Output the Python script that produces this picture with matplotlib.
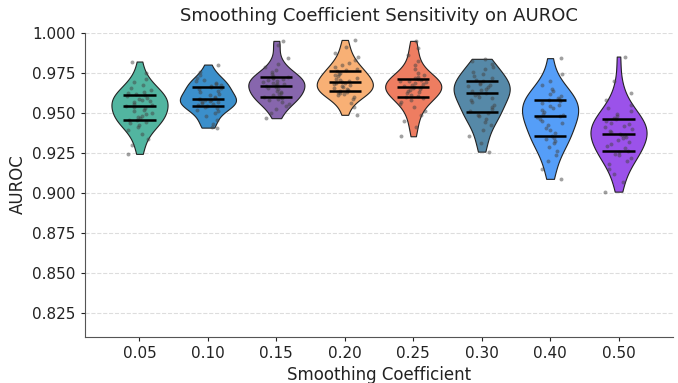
import matplotlib
matplotlib.use("Agg")
import matplotlib.pyplot as plt
import numpy as np


COEFFS = ["0.05", "0.10", "0.15", "0.20", "0.25", "0.30", "0.40", "0.50"]
COLORS = ["#52b5a0", "#3b8fcb", "#8766ad", "#f8b075",
          "#ee7d61", "#5689a8", "#559ef8", "#9b52ea"]

auroc_005 = [0.9242, 0.9296, 0.9338, 0.9365, 0.9389, 0.9407, 0.9421, 0.9433, 0.9442, 0.9451,
             0.9456, 0.9464, 0.9472, 0.9481, 0.9489, 0.9498, 0.9507, 0.9517, 0.9526, 0.9535,
             0.9541, 0.9549, 0.9556, 0.9563, 0.9570, 0.9578, 0.9586, 0.9594, 0.9601, 0.9609,
             0.9614, 0.9622, 0.9631, 0.9643, 0.9656, 0.9671, 0.9689, 0.9712, 0.9745, 0.9819]
auroc_010 = [0.9406, 0.9412, 0.9431, 0.9452, 0.9478, 0.9496, 0.9509, 0.9518, 0.9527, 0.9535,
             0.9541, 0.9548, 0.9554, 0.9559, 0.9564, 0.9569, 0.9573, 0.9577, 0.9580, 0.9583,
             0.9586, 0.9592, 0.9600, 0.9609, 0.9618, 0.9627, 0.9637, 0.9646, 0.9654, 0.9661,
             0.9666, 0.9672, 0.9679, 0.9687, 0.9696, 0.9706, 0.9718, 0.9733, 0.9755, 0.9800]
auroc_015 = [0.9465, 0.9497, 0.9521, 0.9540, 0.9556, 0.9568, 0.9577, 0.9584, 0.9590, 0.9595,
             0.9600, 0.9607, 0.9614, 0.9622, 0.9630, 0.9637, 0.9645, 0.9652, 0.9659, 0.9665,
             0.9670, 0.9676, 0.9681, 0.9687, 0.9692, 0.9698, 0.9703, 0.9709, 0.9714, 0.9719,
             0.9724, 0.9731, 0.9740, 0.9751, 0.9765, 0.9782, 0.9805, 0.9838, 0.9921, 0.9948]
auroc_020 = [0.9486, 0.9532, 0.9562, 0.9583, 0.9598, 0.9608, 0.9615, 0.9621, 0.9626, 0.9630,
             0.9635, 0.9641, 0.9647, 0.9653, 0.9659, 0.9665, 0.9671, 0.9677, 0.9682, 0.9687,
             0.9692, 0.9698, 0.9705, 0.9712, 0.9719, 0.9726, 0.9734, 0.9742, 0.9750, 0.9758,
             0.9765, 0.9774, 0.9785, 0.9798, 0.9812, 0.9828, 0.9848, 0.9875, 0.9912, 0.9954]
auroc_025 = [0.9352, 0.9408, 0.9450, 0.9482, 0.9510, 0.9533, 0.9553, 0.9569, 0.9581, 0.9590,
             0.9596, 0.9604, 0.9612, 0.9620, 0.9627, 0.9634, 0.9641, 0.9647, 0.9652, 0.9657,
             0.9661, 0.9666, 0.9671, 0.9677, 0.9683, 0.9689, 0.9695, 0.9700, 0.9705, 0.9710,
             0.9716, 0.9724, 0.9735, 0.9750, 0.9770, 0.9795, 0.9825, 0.9862, 0.9905, 0.9948]
auroc_030 = [0.9256, 0.9310, 0.9352, 0.9390, 0.9420, 0.9443, 0.9461, 0.9477, 0.9488, 0.9497,
             0.9508, 0.9522, 0.9536, 0.9550, 0.9563, 0.9576, 0.9588, 0.9600, 0.9610, 0.9619,
             0.9625, 0.9633, 0.9641, 0.9649, 0.9657, 0.9664, 0.9671, 0.9679, 0.9687, 0.9695,
             0.9705, 0.9716, 0.9728, 0.9741, 0.9755, 0.9770, 0.9786, 0.9805, 0.9822, 0.9836]
auroc_040 = [0.9086, 0.9148, 0.9196, 0.9233, 0.9263, 0.9288, 0.9308, 0.9323, 0.9335, 0.9344,
             0.9355, 0.9372, 0.9390, 0.9406, 0.9420, 0.9434, 0.9447, 0.9459, 0.9470, 0.9478,
             0.9484, 0.9494, 0.9505, 0.9516, 0.9527, 0.9538, 0.9549, 0.9560, 0.9570, 0.9578,
             0.9585, 0.9594, 0.9605, 0.9618, 0.9633, 0.9650, 0.9671, 0.9697, 0.9740, 0.9840]
auroc_050 = [0.9006, 0.9068, 0.9115, 0.9150, 0.9178, 0.9200, 0.9218, 0.9232, 0.9243, 0.9251,
             0.9262, 0.9276, 0.9290, 0.9303, 0.9316, 0.9328, 0.9339, 0.9349, 0.9357, 0.9363,
             0.9369, 0.9378, 0.9388, 0.9398, 0.9408, 0.9418, 0.9428, 0.9438, 0.9448, 0.9457,
             0.9466, 0.9478, 0.9492, 0.9508, 0.9527, 0.9550, 0.9580, 0.9620, 0.9700, 0.9850]

groups = [auroc_005, auroc_010, auroc_015, auroc_020,
          auroc_025, auroc_030, auroc_040, auroc_050]

fig = plt.figure(figsize=(6.78, 3.83), dpi=100)
ax = fig.add_axes([0.125, 0.121, 0.868, 0.794])

pos = np.arange(len(groups))
parts = ax.violinplot(groups, positions=pos, widths=0.82,
                      showextrema=False, showmedians=False)
for body, color in zip(parts["bodies"], COLORS):
    body.set_facecolor(color)
    body.set_edgecolor("#222222")
    body.set_linewidth(0.8)
    body.set_alpha(1.0)
    body.set_zorder(2)

# quartile lines
for i, vals in enumerate(groups):
    q1, q2, q3 = np.percentile(vals, [25, 50, 75])
    ax.hlines([q1, q2, q3], i - 0.235, i + 0.235, colors="black",
              linewidth=1.8, zorder=4)

# jittered runs
rng = np.random.default_rng(3)
for i, vals in enumerate(groups):
    xj = i + rng.uniform(-0.2, 0.2, len(vals))
    ax.scatter(xj, vals, s=8, color="#444444", alpha=0.5,
               linewidths=0, zorder=3)

ax.set_xlim(-0.8, 7.8)
ax.set_ylim(0.81, 1.0)
ax.set_yticks(np.arange(0.825, 1.0001, 0.025))
ax.yaxis.set_major_formatter(matplotlib.ticker.FormatStrFormatter("%.3f"))
ax.set_xticks(pos)
ax.set_xticklabels(COEFFS)
ax.tick_params(labelsize=11, colors="#222222", length=3)

ax.yaxis.grid(True, linestyle="--", color="#dddddd", linewidth=0.8)
ax.set_axisbelow(True)
ax.spines["top"].set_visible(False)
ax.spines["right"].set_visible(False)
for side in ("left", "bottom"):
    ax.spines[side].set_color("#555555")

ax.set_xlabel("Smoothing Coefficient", fontsize=12, color="#222222")
ax.set_ylabel("AUROC", fontsize=12, color="#222222")
ax.set_title("Smoothing Coefficient Sensitivity on AUROC", fontsize=13,
             color="#222222", pad=8)

fig.savefig("out.png", dpi=100)
